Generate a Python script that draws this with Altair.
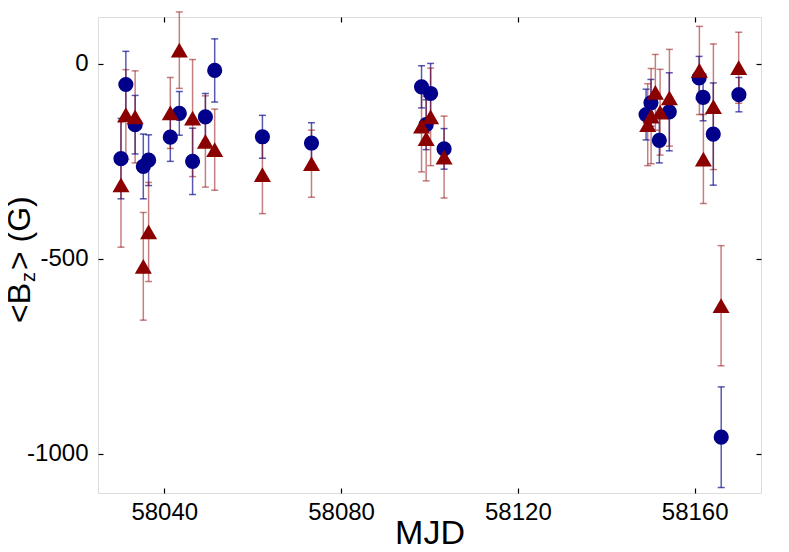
import altair as alt
import pandas as pd

# ---- data ----
blue_mjd = [58030.2, 58031.3, 58033.4, 58035.25, 58036.45, 58041.36, 58043.4, 58046.4,
            58049.3, 58051.4, 58062.2, 58073.3, 58098.2, 58099.25, 58100.25, 58103.3,
            58149.0, 58150.1, 58152.0, 58154.25, 58161.0, 58161.9, 58164.2, 58166.0, 58170.0]
blue_bz = [-243, -53, -156, -263, -247, -188, -127, -250,
           -136, -17, -187, -203, -59, -156, -76, -218,
           -130, -100, -196, -123, -36, -86, -180, -957, -79]
blue_err = [103, 85, 75, 83, 65, 62, 56, 85,
            60, 81, 55, 52, 54, 64, 77, 52,
            65, 60, 58, 100, 55, 60, 131, 129, 44]

red_mjd = [58030.2, 58031.3, 58033.4, 58035.25, 58036.45, 58041.36, 58043.4, 58046.4,
           58049.3, 58051.4, 58062.2, 58073.3, 58098.2, 58099.25, 58100.25, 58103.3,
           58149.37, 58150.14, 58151.1, 58152.17, 58154.28, 58161.06, 58161.97, 58164.23,
           58165.97, 58169.95]
red_bz = [-310, -130, -136, -519, -431, -126, 35, -139,
          -199, -220, -284, -256, -160, -192, -136, -239,
          -156, -134, -73, -124, -87, -17, -244, -110,
          -620, -10]
red_err = [160, 115, 118, 138, 127, 91, 98, 150,
           117, 104, 100, 86, 117, 108, 125, 105,
           105, 122, 97, 110, 124, 113, 114, 161,
           154, 91]

x_ticks = [58040, 58080, 58120, 58160]
y_ticks = [0, -500, -1000]

blue = pd.DataFrame({"mjd": blue_mjd, "bz": blue_bz, "err": blue_err})
blue["lo"] = blue["bz"] - blue["err"]
blue["hi"] = blue["bz"] + blue["err"]
red = pd.DataFrame({"mjd": red_mjd, "bz": red_bz, "err": red_err})
red["lo"] = red["bz"] - red["err"]
red["hi"] = red["bz"] + red["err"]

FONT = "Liberation Sans"
BLUE = "#00008B"
RED = "#8B0000"

xs = alt.Scale(domain=[58025, 58175], nice=False, zero=False)
ys = alt.Scale(domain=[-1100, 120], nice=False, zero=False)
inward = {"expr": "-5"}

x_axis = alt.Axis(values=x_ticks, format="d", title="MJD", orient="bottom",
                  labelFontSize=24, titleFontSize=34, labelFont=FONT, titleFont=FONT,
                  titleFontWeight="normal", labelColor="black", titleColor="black",
                  tickSize=inward, tickColor="black", tickWidth=1.2, labelPadding=12,
                  titlePadding=-8, domain=False, grid=False)
y_axis = alt.Axis(values=y_ticks, title=None, orient="left",
                  labelExpr="datum.value < 0 ? '-' + (-datum.value) : '' + datum.value",
                  labelFontSize=24, labelFont=FONT, labelColor="black",
                  tickSize=inward, tickColor="black", tickWidth=1.2, labelPadding=15,
                  domain=False, grid=False)
x_top = alt.Axis(values=x_ticks, orient="top", labels=False, title=None,
                 tickSize=inward, tickColor="black", tickWidth=1.2, domain=False, grid=False)
y_right = alt.Axis(values=y_ticks, orient="right", labels=False, title=None,
                   tickSize=inward, tickColor="black", tickWidth=1.2, domain=False, grid=False)


def errbars(df, color, opacity):
    base = alt.Chart(df)
    rule = base.mark_rule(color=color, strokeWidth=1.5, opacity=opacity).encode(
        x=alt.X("mjd:Q", scale=xs, axis=x_axis),
        y=alt.Y("lo:Q", scale=ys, axis=y_axis),
        y2="hi:Q",
    )
    cap_lo = base.mark_tick(color=color, orient="horizontal", size=7, thickness=1.5,
                            opacity=opacity).encode(x="mjd:Q", y="lo:Q")
    cap_hi = base.mark_tick(color=color, orient="horizontal", size=7, thickness=1.5,
                            opacity=opacity).encode(x="mjd:Q", y="hi:Q")
    return rule + cap_lo + cap_hi


blue_err_l = errbars(blue, BLUE, 0.65)
red_err_l = errbars(red, RED, 0.5)

blue_pts = alt.Chart(blue).mark_point(shape="circle", filled=True, size=230,
                                      color=BLUE, opacity=1).encode(
    x=alt.X("mjd:Q", scale=xs, axis=x_axis),
    y=alt.Y("bz:Q", scale=ys, axis=y_axis),
)
red_pts = alt.Chart(red).mark_point(shape="triangle-up", filled=True, size=290,
                                    color=RED, opacity=1).encode(
    x=alt.X("mjd:Q", scale=xs, axis=x_top),
    y=alt.Y("bz:Q", scale=ys, axis=y_right),
)

main = alt.layer(blue_err_l, red_err_l, blue_pts)

# y-axis title with subscript
title_df = pd.DataFrame({"k": [0]})
tb = alt.Chart(title_df)
t1 = tb.mark_text(text="<B", angle=270, align="right", baseline="alphabetic",
                  font=FONT, fontSize=32, color="black").encode(
    x=alt.value(-68), y=alt.value(266))
t2 = tb.mark_text(text="z", angle=270, align="left", baseline="alphabetic",
                  font=FONT, fontSize=20, color="black").encode(
    x=alt.value(-63), y=alt.value(265))
t3 = tb.mark_text(text="> (G)", angle=270, align="left", baseline="alphabetic",
                  font=FONT, fontSize=32, color="black").encode(
    x=alt.value(-68), y=alt.value(253))

chart = alt.layer(main, red_pts, t1, t2, t3).resolve_axis(
    x="independent", y="independent"
).properties(
    width=663, height=476,
    autosize=alt.AutoSizeParams(type="none"),
    padding={"left": 90, "top": 9, "right": 20, "bottom": 51},
).configure_view(stroke="black", strokeWidth=1.2).configure(background="white")

chart.save("out.html", embed_options={"renderer": "svg", "actions": False})
